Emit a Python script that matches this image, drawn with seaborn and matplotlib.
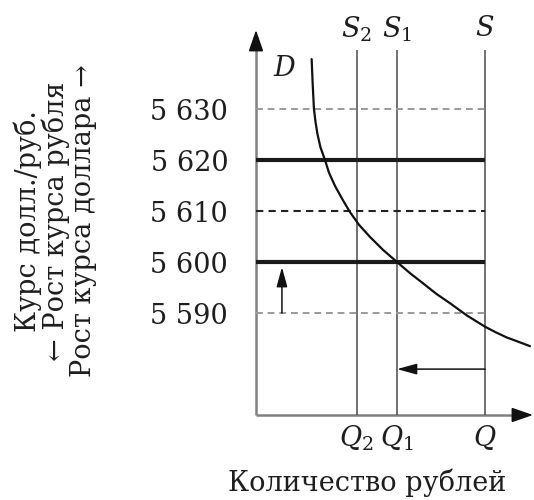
import matplotlib
matplotlib.use("Agg")
import matplotlib.pyplot as plt
import seaborn as sns
import pandas as pd

# ---- data ----
rates = [5590, 5600, 5610, 5620, 5630]
rate_labels = ["5 590", "5 600", "5 610", "5 620", "5 630"]
rate_kind = ["gray", "thick", "dark", "thick", "gray"]

q_values = [40, 56, 91]
q_labels = ["$Q_2$", "$Q_1$", "$Q$"]
s_labels = ["$S_2$", "$S_1$", "$S$"]

demand_q = [22.1, 22.5, 23.0, 23.6, 24.4, 25.6, 27.4, 29.0, 31.4, 34.2, 37.3, 40.9, 45.3,
            50.4, 56.0, 61.2, 66.4, 71.5, 77.1, 83.8, 91.0, 95.3, 99.6, 104.0, 108.8]
demand_rate = [5639.8, 5635.0, 5630.1, 5627.6, 5625.1, 5622.5, 5620.0, 5617.5, 5614.9, 5612.4,
               5609.8, 5607.3, 5604.9, 5602.4, 5600.0, 5597.8, 5595.8, 5593.8, 5591.9, 5589.5,
               5587.3, 5586.2, 5585.2, 5584.4, 5583.5]

up_arrow_x = 10.3
up_arrow_from, up_arrow_to = 5590, 5599
left_arrow_rate = 5579
left_arrow_from, left_arrow_to = 91, 56

x_title = "Количество рублей"
y_title = "Курс долл./руб.\n← Рост курса рубля\nРост курса доллара →"

# ---- style ----
sns.set_style("white")
plt.rcParams["font.family"] = ["DejaVu Serif"]
plt.rcParams["mathtext.fontset"] = "dejavuserif"
FS = 19.5
TXT = "#1e1e1e"

fig = plt.figure(figsize=(5.34, 5.0), dpi=100)
ax = fig.add_axes([256 / 534, 1 - 415 / 500, (533 - 256) / 534, (415 - 30) / 500])
ax.set_xlim(0, 110)
ax.set_ylim(5570, 5645.5)
for sp in ax.spines.values():
    sp.set_visible(False)

# axes lines (gray) with black arrowheads
ax.plot([0, 0], [0, 0.98], transform=ax.transAxes, color="#808080", lw=1.8, clip_on=False,
        solid_capstyle="butt")
ax.plot([0, 0.98], [0, 0], transform=ax.transAxes, color="#808080", lw=1.8, clip_on=False,
        solid_capstyle="butt")
head = dict(arrowstyle="-|>,head_length=1.3,head_width=0.45", color="#111111",
            lw=1.2, shrinkA=0, shrinkB=0)
ax.annotate("", xy=(0, 1), xytext=(0, 0.97), xycoords="axes fraction", arrowprops=head,
            annotation_clip=False)
ax.annotate("", xy=(1, 0), xytext=(0.97, 0), xycoords="axes fraction", arrowprops=head,
            annotation_clip=False)

# supply verticals
ax.vlines(q_values, 5570, 5641.6, colors="#4a4a4a", lw=1.1, zorder=2)

# horizontal rate lines
q_max = max(q_values)
for r, k in zip(rates, rate_kind):
    if k == "thick":
        ax.hlines(r, 0, q_max, colors="#1a1a1a", lw=3.0, zorder=3)
    elif k == "dark":
        ax.hlines(r, 0, q_max, colors="#222222", lw=1.5, linestyles=(0, (3.5, 2.5)), zorder=3)
    else:
        ax.hlines(r, 0, q_max, colors="#9a9a9a", lw=1.4, linestyles=(0, (3.5, 2.5)), zorder=3)

# demand curve
df = pd.DataFrame({"q": demand_q, "rate": demand_rate})
sns.lineplot(data=df, x="q", y="rate", ax=ax, color="#111111", lw=1.6, zorder=4,
             estimator=None, sort=False)

# arrows
small = dict(arrowstyle="-|>,head_length=1.2,head_width=0.33", color="#111111",
             lw=1.1, shrinkA=0, shrinkB=0)
ax.annotate("", xy=(up_arrow_x, up_arrow_to), xytext=(up_arrow_x, up_arrow_from), arrowprops=small)
ax.annotate("", xy=(left_arrow_to, left_arrow_rate), xytext=(left_arrow_from, left_arrow_rate),
            arrowprops=small)

# ticks
ax.set_yticks(rates)
ax.set_yticklabels(rate_labels, fontsize=FS, color=TXT)
ax.set_xticks(q_values)
ax.set_xticklabels(q_labels, fontsize=FS, color=TXT)
ax.tick_params(axis="y", length=0, pad=20)
ax.tick_params(axis="x", length=0, pad=6)
ax.set_xlabel("")
ax.set_ylabel("")

# S labels
for q, s in zip(q_values, s_labels):
    ax.text(q, 5645.7, s, ha="center", va="center", fontsize=FS, color=TXT, clip_on=False)
ax.text(11.5, 5638.0, "$D$", ha="center", va="center", fontsize=FS, color=TXT)

fig.text(367 / 534, 1 - 483 / 500, x_title, ha="center", va="center", fontsize=FS, color=TXT)
fig.text(55.5 / 534, 1 - 221 / 500, y_title, ha="center", va="center", rotation=90,
         multialignment="center", fontsize=FS, color=TXT, linespacing=0.98)

fig.savefig("out.png", dpi=100)
